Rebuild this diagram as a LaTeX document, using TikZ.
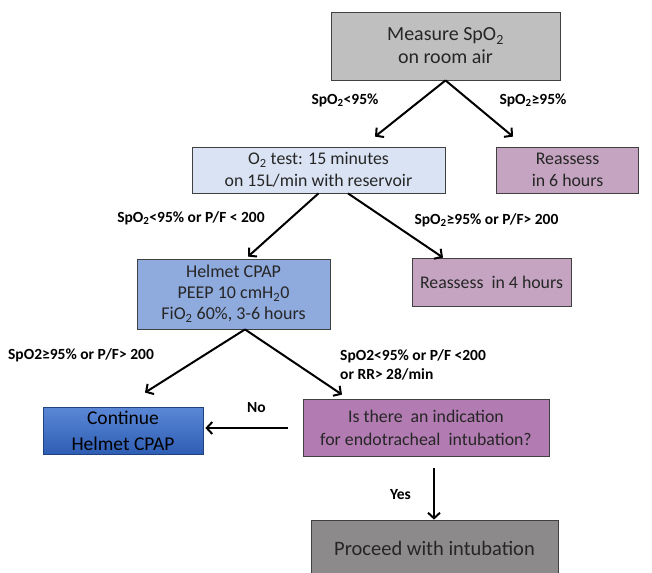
\documentclass[tikz,border=0pt]{standalone}
\usepackage{fontspec}
\setmainfont{Carlito}
\usetikzlibrary{arrows.meta}

\definecolor{edgegray}{HTML}{404040}
\definecolor{measgray}{HTML}{BFBFBF}
\definecolor{testblue}{HTML}{DAE3F3}
\definecolor{helmblue}{HTML}{8FAADC}
\definecolor{reasmauve}{HTML}{C4A4C0}
\definecolor{indicpurple}{HTML}{B27BB2}
\definecolor{procgray}{HTML}{8C8A8A}
\definecolor{conttop}{HTML}{5B87D6}
\definecolor{contbot}{HTML}{2E5EB4}

\begin{document}
\begin{tikzpicture}[
      x = 1pt, y = -1pt,
      box/.style = {
        rectangle, draw = edgegray, line width = .8pt, inner sep = 0pt,
        align = center, text = black!85,
        font = \fontsize{17.8}{22}\selectfont},
      lbl/.style = {
        inner sep = 0pt, text = black,
        font = \fontsize{15.5}{19}\selectfont\bfseries},
      arr/.style = {
        line width = 2pt, -{Straight Barb[length = 5.5pt, width = 12pt]}}
      ]
    \useasboundingbox (0,0) rectangle (652,572);
    \clip (0,0) rectangle (652,572);

    \node[box, fill = measgray, minimum width = 229pt, minimum height = 68pt,
      font = \fontsize{20}{23}\selectfont]
      (meas) at (445.5,46) {Measure SpO\textsubscript{2}\\on room air}; % top
    \node[box, fill = testblue, minimum width = 253pt, minimum height = 46pt]
      (otest) at (318.5,170) {O\textsubscript{2} test: 15 minutes\\on 15L/min with reservoir};
    \node[box, fill = reasmauve, minimum width = 142pt, minimum height = 46pt]
      (reas6) at (567.5,170) {Reassess\\in 6 hours};
    \node[box, fill = helmblue, minimum width = 193pt, minimum height = 70pt,
      font = \fontsize{18}{21}\selectfont]
      (helm) at (233.5,294) {Helmet CPAP\\PEEP 10 cmH\textsubscript{2}0\\FiO\textsubscript{2} 60\%, 3-6 hours};
    \node[box, fill = reasmauve, minimum width = 159pt, minimum height = 48pt]
      (reas4) at (491.5,282) {Reassess~ in 4 hours};
    \node[box, draw = contbot!70!black, top color = conttop, bottom color = contbot,
      minimum width = 160pt, minimum height = 47pt, text = black,
      font = \fontsize{19.5}{26}\selectfont]
      (cont) at (123,430.5) {Continue\\Helmet CPAP};
    \node[box, fill = indicpurple, minimum width = 246pt, minimum height = 57pt,
      font = \fontsize{17.8}{23}\selectfont]
      (indic) at (426,427.5) {Is there~ an indication\\for endotracheal~ intubation?};
    \node[box, fill = procgray, minimum width = 247pt, minimum height = 56pt,
      font = \fontsize{20.5}{24}\selectfont]
      (proc) at (434.5,548) {Proceed with intubation}; % bottom

    % branch labels
    \node[lbl] (l1) at (345,100) {SpO\textsubscript{2}<95\%};
    \node[lbl] (l2) at (533,100) {SpO\textsubscript{2}≥95\%};
    \node[lbl] (l3) at (191,218) {SpO\textsubscript{2}<95\% or P/F < 200};
    \node[lbl] (l4) at (486.5,220) {SpO\textsubscript{2}≥95\% or P/F> 200};
    \node[lbl] (l5) at (81,355) {SpO2≥95\% or P/F> 200};
    \node[lbl, anchor = west, align = left] (l6) at (340,364.5) {SpO2<95\% or P/F <200\\or RR> 28/min};
    \node[lbl] (l7) at (256.5,408) {No};
    \node[lbl] (l8) at (400.5,495) {Yes};

    \draw[arr] (meas.south) -- ([xshift = 56.5pt, yshift = 10pt]otest.north);
    \draw[arr] (meas.south) -- ([xshift = -54.5pt, yshift = 10pt]reas6.north);
    \draw[arr] (otest.south) -- ([xshift = 14.5pt, yshift = 2pt]helm.north);
    \draw[arr] ([xshift = 29.5pt]otest.south) -- ([xshift = -48.5pt]reas4.north);
    \draw[arr] ([xshift = 11.5pt]helm.south) -- ([xshift = 22pt, yshift = 14pt]cont.north);
    \draw[arr] ([xshift = 11.5pt]helm.south) -- ([xshift = -84pt, yshift = 4pt]indic.north);
    \draw[arr] ([xshift = -15pt, yshift = -0.5pt]indic.west) -- ([xshift = 2pt, yshift = 2.5pt]cont.east);
    \draw[arr] ([xshift = 8pt, yshift = -12pt]indic.south) -- ([xshift = -0.5pt]proc.north);
  \end{tikzpicture}
\end{document}
